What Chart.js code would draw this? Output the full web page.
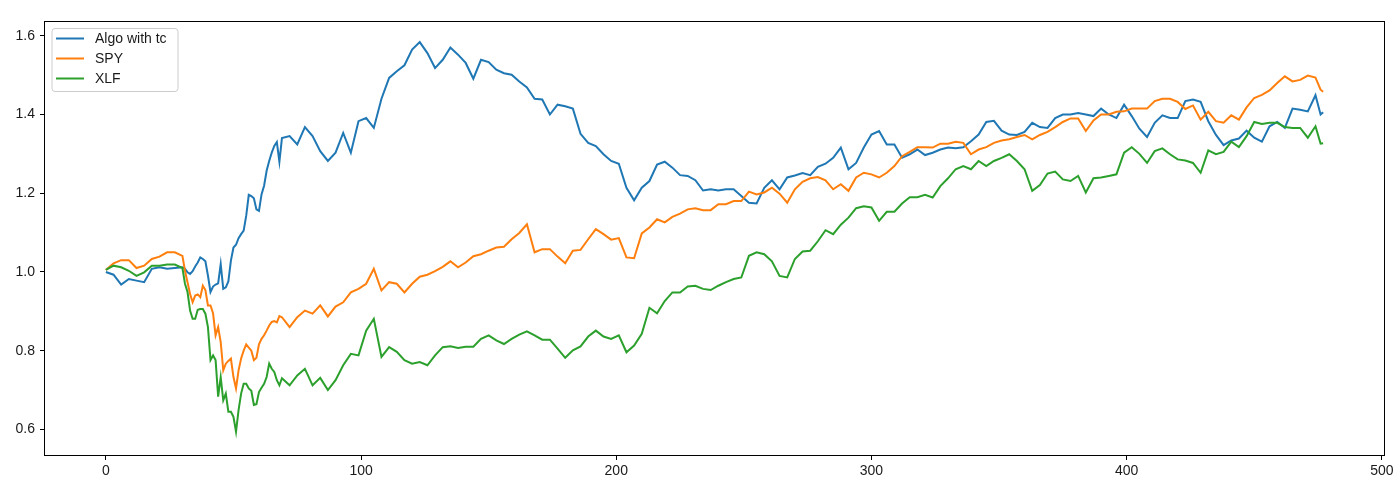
<!DOCTYPE html>
<html><head><meta charset="utf-8">
<script src="https://cdn.jsdelivr.net/npm/chart.js@4.4.1/dist/chart.umd.min.js"></script>
<style>html,body{margin:0;padding:0;background:#fff;}#wrap{width:1400px;height:492px;}</style>
</head><body><div id="wrap"><canvas id="c" width="1400" height="492"></canvas></div>
<script>
const xs = [
0,3,6,9,12,15,18,21,24,27,
30,31,32,33,34,35,36,37,38,39,
40,41,42,43,44,45,46,47,48,49,
50,51,52,53,54,55,56,57,58,59,
60,61,62,63,64,65,66,67,68,69,
72,75,78,81,84,87,
90,93,96,99,102,105,108,111,114,117,
120,123,126,129,132,135,138,141,144,147,
150,153,156,159,162,165,168,171,174,177,
180,183,186,189,192,195,198,201,204,207,
210,213,216,219,222,225,228,231,234,237,
240,243,246,249,252,255,258,261,264,267,
270,273,276,279,282,285,288,291,294,297,
300,303,306,309,312,315,318,321,324,327,
330,333,336,339,342,345,348,351,354,357,
360,363,366,369,372,375,378,381,384,387,
390,393,396,399,402,405,408,411,414,417,
420,423,426,429,432,435,438,441,444,447,
450,453,456,459,462,465,468,471,474,476,
477];
const algo = [
1.000,0.993,0.968,0.982,0.978,0.974,1.008,1.012,1.008,1.010,
1.012,1.008,0.999,0.995,1.002,1.014,1.024,1.037,1.033,1.027,
0.991,0.949,0.963,0.968,0.971,1.020,0.957,0.961,0.976,1.029,
1.062,1.069,1.086,1.096,1.105,1.143,1.196,1.193,1.187,1.159,
1.155,1.197,1.219,1.257,1.282,1.303,1.320,1.330,1.280,1.340,
1.345,1.324,1.368,1.345,1.307,1.282,
1.303,1.353,1.303,1.383,1.391,1.366,1.440,1.493,1.510,1.525,
1.565,1.584,1.556,1.518,1.539,1.570,1.552,1.531,1.491,1.539,
1.533,1.514,1.505,1.501,1.484,1.469,1.440,1.438,1.400,1.425,
1.421,1.415,1.351,1.328,1.320,1.299,1.282,1.275,1.214,1.182,
1.214,1.231,1.273,1.280,1.265,1.246,1.244,1.233,1.207,1.210,
1.207,1.210,1.210,1.193,1.176,1.174,1.214,1.233,1.210,1.240,
1.245,1.251,1.246,1.267,1.275,1.290,1.316,1.261,1.277,1.316,
1.349,1.358,1.324,1.324,1.290,1.299,1.311,1.297,1.303,1.311,
1.316,1.314,1.317,1.332,1.349,1.381,1.384,1.359,1.349,1.348,
1.356,1.379,1.368,1.366,1.391,1.400,1.400,1.404,1.400,1.396,
1.415,1.400,1.391,1.425,1.396,1.364,1.343,1.379,1.398,1.391,
1.391,1.434,1.438,1.432,1.383,1.348,1.322,1.334,1.339,1.359,
1.341,1.331,1.370,1.381,1.366,1.415,1.412,1.408,1.449,1.400,
1.406];
const spy = [
1.005,1.022,1.030,1.030,1.010,1.016,1.033,1.039,1.050,1.050,
1.041,1.003,0.974,0.944,0.923,0.940,0.943,0.936,0.965,0.954,
0.915,0.915,0.895,0.839,0.860,0.822,0.750,0.767,0.774,0.780,
0.733,0.704,0.750,0.780,0.800,0.816,0.808,0.800,0.776,0.782,
0.816,0.830,0.839,0.851,0.864,0.873,0.875,0.872,0.888,0.885,
0.860,0.885,0.902,0.894,0.915,0.887,
0.912,0.923,0.948,0.957,0.970,1.008,0.953,0.974,0.970,0.948,
0.970,0.988,0.993,1.002,1.013,1.027,1.012,1.024,1.040,1.045,
1.054,1.062,1.064,1.083,1.099,1.121,1.050,1.058,1.058,1.039,
1.022,1.054,1.056,1.083,1.109,1.096,1.082,1.086,1.037,1.035,
1.098,1.113,1.134,1.126,1.140,1.148,1.159,1.162,1.157,1.157,
1.172,1.172,1.180,1.180,1.204,1.197,1.202,1.214,1.199,1.176,
1.210,1.229,1.238,1.241,1.233,1.210,1.223,1.206,1.240,1.252,
1.248,1.240,1.252,1.269,1.294,1.305,1.317,1.317,1.316,1.326,
1.326,1.331,1.328,1.299,1.311,1.317,1.328,1.334,1.337,1.343,
1.348,1.337,1.348,1.356,1.368,1.381,1.390,1.390,1.358,1.385,
1.400,1.400,1.407,1.408,1.415,1.415,1.415,1.434,1.440,1.440,
1.432,1.414,1.423,1.387,1.407,1.383,1.379,1.398,1.387,1.418,
1.442,1.450,1.461,1.480,1.497,1.484,1.488,1.499,1.494,1.463,
1.458];
const xlf = [
1.005,1.016,1.012,1.003,0.990,0.999,1.016,1.016,1.019,1.019,
1.010,0.970,0.949,0.902,0.881,0.881,0.904,0.906,0.906,0.894,
0.860,0.776,0.788,0.776,0.683,0.733,0.674,0.691,0.645,0.645,
0.632,0.594,0.649,0.691,0.716,0.716,0.704,0.698,0.662,0.664,
0.695,0.706,0.716,0.733,0.767,0.754,0.746,0.725,0.712,0.730,
0.712,0.737,0.754,0.712,0.731,0.700,
0.725,0.763,0.792,0.788,0.851,0.881,0.784,0.809,0.797,0.776,
0.767,0.771,0.763,0.788,0.809,0.811,0.807,0.810,0.810,0.830,
0.839,0.826,0.817,0.830,0.841,0.849,0.839,0.828,0.828,0.805,
0.782,0.801,0.811,0.836,0.851,0.836,0.830,0.839,0.796,0.813,
0.843,0.909,0.895,0.926,0.948,0.948,0.963,0.965,0.957,0.954,
0.965,0.974,0.982,0.986,1.041,1.050,1.045,1.027,0.990,0.986,
1.033,1.052,1.054,1.078,1.106,1.096,1.120,1.138,1.162,1.167,
1.164,1.130,1.153,1.153,1.174,1.190,1.190,1.196,1.189,1.218,
1.238,1.261,1.269,1.261,1.282,1.269,1.282,1.290,1.299,1.282,
1.261,1.206,1.221,1.250,1.255,1.235,1.231,1.244,1.202,1.238,
1.240,1.244,1.248,1.303,1.317,1.300,1.277,1.307,1.314,1.299,
1.286,1.283,1.277,1.252,1.309,1.299,1.305,1.331,1.317,1.345,
1.381,1.376,1.379,1.379,1.368,1.366,1.366,1.341,1.370,1.326,
1.327];
const xTicks = [0,100,200,300,400,500];
const yTicks = [0.6,0.8,1.0,1.2,1.4,1.6];
const seriesLabels = ['Algo with tc','SPY','XLF'];
const seriesColors = ['#1f77b4','#ff7f0e','#2ca02c'];
const seriesValues = [algo, spy, xlf];

const FONT = '"Liberation Sans", Arial, sans-serif';
Chart.defaults.font.family = FONT;
Chart.defaults.font.size = 14;

const framePlugin = {
  id: 'frame',
  afterDatasetsDraw(chart) {
    const {ctx, chartArea: a} = chart;
    ctx.save();
    ctx.strokeStyle = '#000';
    ctx.lineWidth = 1;
    const l = Math.round(a.left) - 0.5, t = Math.round(a.top) - 0.5;
    const r = Math.round(a.right) + 0.5, b = Math.round(a.bottom) + 0.5;
    ctx.strokeRect(l, t, r - l, b - t);
    ctx.restore();
  }
};

const legendPlugin = {
  id: 'boxLegend',
  afterDraw(chart) {
    const ctx = chart.ctx;
    const a = chart.chartArea;
    const bx = a.left + 7, by = a.top + 6.5, bw = 126, bh = 63, r = 3;
    ctx.save();
    ctx.beginPath();
    ctx.moveTo(bx + r, by);
    ctx.lineTo(bx + bw - r, by);
    ctx.arcTo(bx + bw, by, bx + bw, by + r, r);
    ctx.lineTo(bx + bw, by + bh - r);
    ctx.arcTo(bx + bw, by + bh, bx + bw - r, by + bh, r);
    ctx.lineTo(bx + r, by + bh);
    ctx.arcTo(bx, by + bh, bx, by + bh - r, r);
    ctx.lineTo(bx, by + r);
    ctx.arcTo(bx, by, bx + r, by, r);
    ctx.closePath();
    ctx.fillStyle = 'rgba(255,255,255,0.8)';
    ctx.fill();
    ctx.strokeStyle = '#cccccc';
    ctx.lineWidth = 1;
    ctx.stroke();
    ctx.font = '14px ' + FONT;
    ctx.textBaseline = 'middle';
    chart.data.datasets.forEach((ds, i) => {
      const y = by + 10 + i * 20;
      ctx.beginPath();
      ctx.moveTo(bx + 4, y);
      ctx.lineTo(bx + 32, y);
      ctx.strokeStyle = ds.borderColor;
      ctx.lineWidth = 2;
      ctx.stroke();
      ctx.fillStyle = '#1a1a1a';
      ctx.fillText(ds.label, bx + 43, y + 0.5);
    });
    ctx.restore();
  }
};

new Chart(document.getElementById('c'), {
  type: 'line',
  data: {
    datasets: seriesValues.map((vals, k) => ({
      label: seriesLabels[k],
      data: xs.map((x, i) => ({x: x, y: vals[i]})),
      borderColor: seriesColors[k],
      backgroundColor: seriesColors[k],
      borderWidth: 2,
      pointRadius: 0,
      tension: 0,
      fill: false,
      order: 3 - k
    }))
  },
  options: {
    responsive: false,
    animation: false,
    devicePixelRatio: 1,
    layout: {padding: {top: 22, right: 16, left: 0, bottom: 0}},
    plugins: {legend: {display: false}, tooltip: {enabled: false}},
    scales: {
      x: {
        type: 'linear', min: -23.85, max: 500.85,
        afterBuildTicks: s => { s.ticks = xTicks.map(v => ({value: v})); },
        afterFit: s => { s.height = 37; },
        ticks: {autoSkip: false, maxRotation: 0, minRotation: 0, padding: 3, color: '#1a1a1a', callback: v => String(v)},
        grid: {display: true, drawOnChartArea: false, drawTicks: true, tickLength: 5, color: '#000', tickColor: '#000', lineWidth: 1},
        border: {display: false}
      },
      y: {
        type: 'linear', min: 0.535, max: 1.635,
        afterBuildTicks: s => { s.ticks = yTicks.map(v => ({value: v})); },
        afterFit: s => { s.width = 45; },
        ticks: {autoSkip: false, padding: 5, color: '#1a1a1a', callback: v => Number(v).toFixed(1)},
        grid: {display: true, drawOnChartArea: false, drawTicks: true, tickLength: 5, color: '#000', tickColor: '#000', lineWidth: 1},
        border: {display: false}
      }
    }
  },
  plugins: [framePlugin, legendPlugin]
});
</script>
</body></html>
